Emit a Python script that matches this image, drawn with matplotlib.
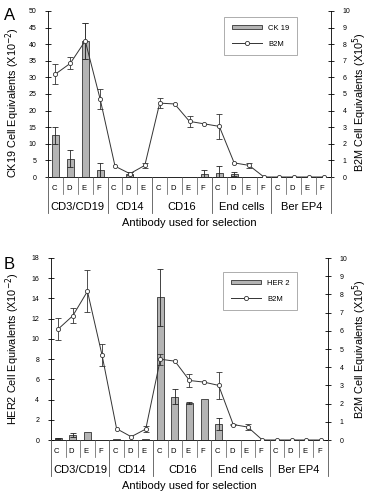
import matplotlib
matplotlib.use('Agg')
import matplotlib.pyplot as plt
import matplotlib.transforms as mtransforms

plt.rcParams['font.family'] = ['Liberation Sans', 'DejaVu Sans']

# categories
groups = ['CD3/CD19', 'CD14', 'CD16', 'End cells', 'Ber EP4']
group_letters = [['C', 'D', 'E', 'F'], ['C', 'D', 'E'], ['C', 'D', 'E', 'F'],
                 ['C', 'D', 'E', 'F'], ['C', 'D', 'E', 'F']]
letters = [l for g in group_letters for l in g]

# panel A: CK19 (x10^-2) and B2M (x10^5)
ck19 = [12.5, 5.5, 41, 2, 0, 1, 0, 0, 0, 0, 1, 1.3, 1, 0, 0, 0, 0, 0, 0]
ck19_err = [2.7, 2.5, 5.5, 2.1, 0, 0.5, 0, 0, 0, 0, 1.2, 2.1, 0.6, 0, 0, 0, 0, 0, 0]
b2m_a = [6.2, 6.85, 8.2, 4.7, 0.65, 0.2, 0.7, 4.45, 4.4, 3.35, 3.2, 3.05, 0.85, 0.7, 0, 0, 0, 0, 0]
b2m_a_err = [0.6, 0.35, 1.1, 0.6, 0, 0.1, 0.15, 0.3, 0, 0.35, 0, 0.75, 0, 0.15, 0, 0, 0, 0, 0]

# panel B: HER2 (x10^-2) and B2M (x10^5)
her2 = [0.15, 0.5, 0.8, 0, 0.05, 0, 0.05, 14.1, 4.3, 3.7, 4.1, 1.6, 0.03, 0.03, 0, 0, 0, 0, 0]
her2_err = [0.05, 0.2, 0, 0, 0, 0, 0, 2.8, 0.7, 0.1, 0, 0.6, 0, 0, 0, 0, 0, 0, 0]
b2m_b = [6.1, 6.83, 8.17, 4.67, 0.62, 0.18, 0.6, 4.44, 4.33, 3.27, 3.18, 3.0, 0.85, 0.71, 0, 0, 0, 0, 0]
b2m_b_err = [0.6, 0.4, 1.15, 0.6, 0, 0, 0.15, 0.3, 0, 0.35, 0, 0.75, 0.05, 0.15, 0, 0, 0, 0, 0]

W, H = 370, 494
fig = plt.figure(figsize=(W / 100, H / 100), dpi=100)


def panel(rect, bars, bars_err, bar_label, left_lim, left_step, ylabel, line, line_err,
          legend_rect, tag, label_y):
    x0, y0, x1, y1 = rect
    ax = fig.add_axes([x0 / W, 1 - y1 / H, (x1 - x0) / W, (y1 - y0) / H])
    n = len(letters)
    xs = list(range(n))
    ax.bar(xs, bars, 0.48, color='#b4b4b4', edgecolor='#333333', linewidth=0.6, zorder=2,
           label=bar_label)
    ax.errorbar([x for x, e in zip(xs, bars_err) if e > 0],
                [b for b, e in zip(bars, bars_err) if e > 0],
                yerr=[e for e in bars_err if e > 0], fmt='none', ecolor='#222222',
                elinewidth=0.6, capsize=2.5, capthick=0.6, zorder=3)
    ax.set_xlim(-0.5, n - 0.5)
    ax.set_ylim(0, left_lim)
    ax.set_yticks(range(0, left_lim + 1, left_step))
    ax.tick_params(axis='y', direction='inout', length=5, width=0.6, labelsize=5, pad=6)
    ax.set_xticks([])
    for s in ['top', 'right']:
        ax.spines[s].set_visible(False)
    ax.spines['left'].set_bounds(0, left_lim)
    ax.spines['left'].set_linewidth(0.6)
    ax.spines['bottom'].set_linewidth(0.6)
    ax.set_ylabel(ylabel, fontsize=7.8)
    ax.yaxis.set_label_coords((22 - x0) / (x1 - x0), label_y)

    ax2 = ax.twinx()
    ax2.plot(xs, line, '-', color='#333333', lw=0.7, marker='o', ms=3,
             mfc='white', mec='#333333', mew=0.6, zorder=4, label='B2M')
    ax2.errorbar([x for x, e in zip(xs, line_err) if e > 0],
                 [v for v, e in zip(line, line_err) if e > 0],
                 yerr=[e for e in line_err if e > 0], fmt='none', ecolor='#333333',
                 elinewidth=0.6, capsize=2.5, capthick=0.6, zorder=3)
    ax2.set_ylim(0, 10)
    ax2.set_yticks(range(0, 11))
    ax2.tick_params(axis='y', direction='inout', length=5, width=0.6, labelsize=5, pad=6)
    for s in ['top', 'left', 'bottom']:
        ax2.spines[s].set_visible(False)
    ax2.spines['right'].set_linewidth(0.6)
    ax2.set_ylabel('B2M Cell Equivalents (X10$^{5}$)', fontsize=7.8)
    ax2.yaxis.set_label_coords((350 - x0) / (x1 - x0), label_y)

    # category labels below the axis
    trans = mtransforms.blended_transform_factory(ax.transData, fig.transFigure)
    y_axis = 1 - y1 / H
    y_let = y_axis - 11 / H
    y_grp = y_axis - 30 / H
    y_tick_end = y_axis - 17 / H
    y_sep_end = y_axis - 36 / H
    for i, l in enumerate(letters):
        fig.text(i - 0.1, y_let, l, transform=trans, ha='center', va='center', fontsize=5.5)
    start = 0
    bounds = [-0.5]
    for g, gl in zip(groups, group_letters):
        mid = start + (len(gl) - 1) / 2
        fig.text(mid, y_grp, g, transform=trans, ha='center', va='center', fontsize=8)
        for k in range(1, len(gl)):
            b = start + k - 0.5
            fig.add_artist(plt.Line2D([b, b], [y_axis, y_tick_end], transform=trans,
                                      color='#555555', lw=0.5))
        start += len(gl)
        bounds.append(start - 0.5)
    for b in bounds:
        fig.add_artist(plt.Line2D([b, b], [y_axis, y_sep_end], transform=trans,
                                  color='#555555', lw=0.6))
    fig.text(0.5 * (x0 + x1) / W, y_axis - 46 / H, 'Antibody used for selection',
             ha='center', va='center', fontsize=8)

    h1, l1 = ax.get_legend_handles_labels()
    h2, l2 = ax2.get_legend_handles_labels()
    lx0, ly0, lx1, ly1 = legend_rect
    leg = ax2.legend(h1 + h2, l1 + l2, loc='upper left',
                     bbox_to_anchor=((lx0 - x0) / (x1 - x0), 1 - (ly0 - y0) / (y1 - y0)),
                     fontsize=5.5, frameon=True, fancybox=False, edgecolor='#888888',
                     handlelength=4, handleheight=0.5, borderpad=1.0, labelspacing=1.2,
                     borderaxespad=0)
    leg.get_frame().set_linewidth(0.6)
    fig.text(4 / W, 1 - tag[1] / H, tag[0], fontsize=12, ha='left', va='center')


panel((48, 11, 331, 177), ck19, ck19_err, 'CK 19', 50, 5,
      'CK19 Cell Equivalents (X10$^{-2}$)', b2m_a, b2m_a_err, (224, 17, 294, 58), ('A', 15), 0.45)
panel((51, 258, 328, 440), her2, her2_err, 'HER 2', 18, 2,
      'HER2 Cell Equivalents (X10$^{-2}$)', b2m_b, b2m_b_err, (223, 272, 294, 309), ('B', 264), 0.5)

fig.savefig('out.png', dpi=100)
